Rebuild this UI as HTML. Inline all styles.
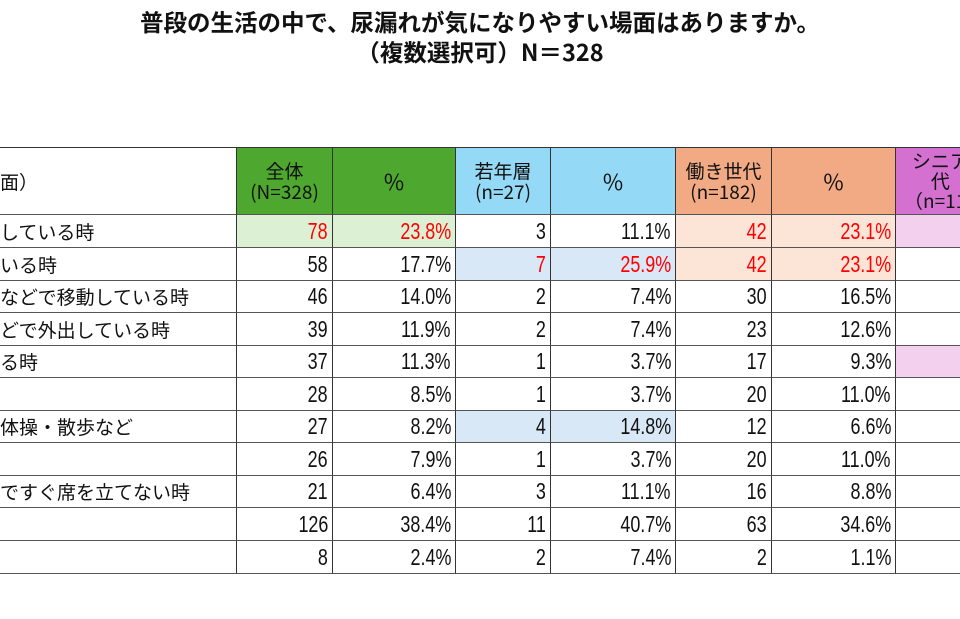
<!DOCTYPE html>
<html><head><meta charset="utf-8">
<style>
body{margin:0;width:960px;height:619px;overflow:hidden;background:#fff;position:relative;font-family:"Liberation Sans","Noto Sans CJK JP",sans-serif;}
.t{position:absolute;left:0;width:960px;text-align:center;font-weight:bold;font-size:23.5px;color:#111;font-family:"Noto Sans CJK JP",sans-serif;}
.c{position:absolute;box-sizing:border-box;border-right:1px solid #333;border-bottom:1px solid #555;font-size:19px;color:#111;display:flex;align-items:center;overflow:hidden;white-space:nowrap;font-family:"Noto Sans CJK JP",sans-serif;}
.n{justify-content:flex-end;padding-right:4px;font-family:"Liberation Sans","Noto Sans CJK JP",sans-serif;font-size:23px;}
.n span{display:inline-block;transform:scaleX(0.78);transform-origin:right center;}
.h{justify-content:center;text-align:center;line-height:21px;font-size:19px;}
.red{color:#f00;}
</style></head><body>
<div class="t" style="top:4px">普段の生活の中で、尿漏れが気になりやすい場面はありますか。</div>
<div class="t" style="top:34px">（複数選択可）N＝328</div>
<div id="tbl"></div>
<script>
const labels=["している時","いる時","などで移動している時","どで外出している時","る時","","体操・散歩など","","ですぐ席を立てない時","",""];
const allN=[78,58,46,39,37,28,27,26,21,126,8];
const allP=["23.8%","17.7%","14.0%","11.9%","11.3%","8.5%","8.2%","7.9%","6.4%","38.4%","2.4%"];
const youngN=[3,7,2,2,1,1,4,1,3,11,2];
const youngP=["11.1%","25.9%","7.4%","7.4%","3.7%","3.7%","14.8%","3.7%","11.1%","40.7%","7.4%"];
const workN=[42,42,30,23,17,20,12,20,16,63,2];
const workP=["23.1%","23.1%","16.5%","12.6%","9.3%","11.0%","6.6%","11.0%","8.8%","34.6%","1.1%"];
const hlAll=[0], hlYoung=[1,6], hlWork=[0,1], hlSenior=[0,4];
const redAll=[0], redYoung=[1], redWork=[0,1];
const xs=[0,237,333,456,551,676,772,896,990];
const rowTop=[215,248,281,313,346,378,411,443,476,508,541,574];
const T=document.getElementById('tbl');
function cell(x0,x1,y0,y1,txt,cls,bg,name){
  const d=document.createElement('div');
  d.className='c '+cls;
  d.style.left=x0+'px';d.style.top=y0+'px';d.style.width=(x1-x0)+'px';d.style.height=(y1-y0)+'px';
  if(bg)d.style.background=bg;
  d.innerHTML=cls.indexOf('n')===0?'<span>'+txt+'</span>':txt;
  
  
  T.appendChild(d);return d;
}
const hTop=147,hBot=215;
const hdr=["面）","全体<br>(N=328)","%","若年層<br>(n=27)","%","働き世代<br>(n=182)","%","シニア<br>代<br>（n=119"];
const hbg=[null,"#4ea72e","#4ea72e","#94daf6","#94daf6","#f1aa84","#f1aa84","#d470d0"];
for(let i=0;i<8;i++){
  const d=cell(xs[i],xs[i+1],hTop,hBot,hdr[i],i==0?'':'h',hbg[i],'header-cell');
  d.style.borderTop='1px solid #333';
  if(hdr[i]==='%'){d.style.fontSize='22px';}
  if(i==7){d.style.justifyContent='flex-start';d.style.paddingLeft='8px';d.style.lineHeight='20px';}
}
for(let r=0;r<labels.length;r++){
  const y0=rowTop[r],y1=rowTop[r+1];
  cell(0,237,y0,y1,labels[r],'',null,'row-label');
  const ga=hlAll.includes(r)?'#dcf1d4':null, gy=hlYoung.includes(r)?'#d8e8f7':null, gw=hlWork.includes(r)?'#fce4d7':null, gs=hlSenior.includes(r)?'#f2d0ee':null;
  cell(237,333,y0,y1,allN[r],'n'+(redAll.includes(r)?' red':''),ga,'all-count');
  cell(333,456,y0,y1,allP[r],'n'+(redAll.includes(r)?' red':''),ga,'all-percent');
  cell(456,551,y0,y1,youngN[r],'n'+(redYoung.includes(r)?' red':''),gy,'young-count');
  cell(551,676,y0,y1,youngP[r],'n'+(redYoung.includes(r)?' red':''),gy,'young-percent');
  cell(676,772,y0,y1,workN[r],'n'+(redWork.includes(r)?' red':''),gw,'work-count');
  cell(772,896,y0,y1,workP[r],'n'+(redWork.includes(r)?' red':''),gw,'work-percent');
  cell(896,990,y0,y1,'','',gs,'senior-count');
}
</script>
</body></html>
